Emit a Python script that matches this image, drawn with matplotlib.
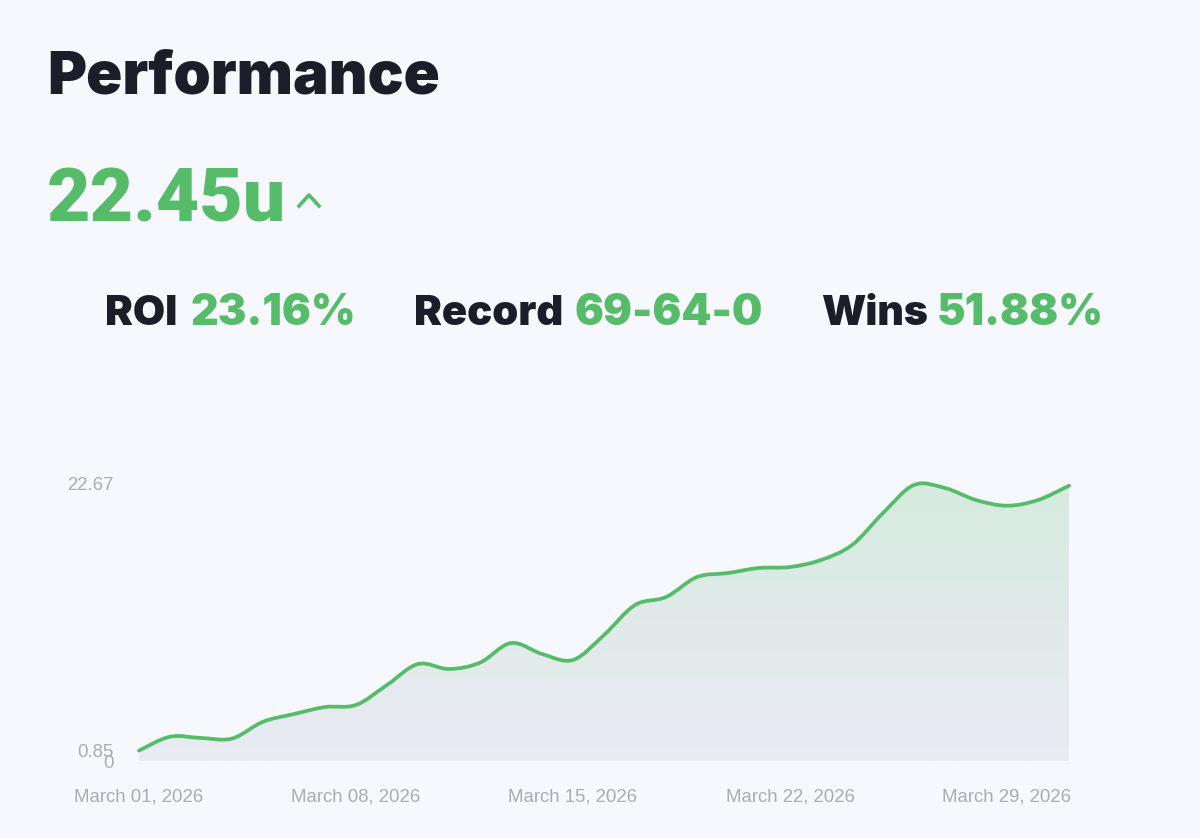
import numpy as np
import pandas as pd
from matplotlib import pyplot as plt
from matplotlib import dates as mdates
from matplotlib.path import Path
from matplotlib.patches import PathPatch
from matplotlib.colors import LinearSegmentedColormap

BG = '#f6f8fd'
DARK = '#1b1d29'
GREEN = '#56bc69'
GREY = '#aaacb1'

days = pd.date_range('2026-03-01', '2026-03-31')
units = [0.85, 1.98, 1.88, 1.83, 3.20, 3.83, 4.40, 4.57, 6.20, 7.91, 7.50, 8.02, 9.62,
         8.73, 8.24, 10.27, 12.72, 13.37, 15.00, 15.33, 15.74, 15.82, 16.39, 17.61,
         20.22, 22.51, 22.26, 21.28, 20.82, 21.28, 22.45]
date_ticks = ['2026-03-01', '2026-03-08', '2026-03-15', '2026-03-22', '2026-03-29']
y_ticks = [0, 0.85, 22.67]
y_labels = ['0', '0.85', '22.67']


def smooth_path(x, y):
    """
    Catmull-Rom curve through the points, as cubic bezier segments
    """
    verts = [(x[0], y[0])]
    codes = [Path.MOVETO]
    n = len(x)
    for i in range(n - 1):
        x0, y0 = x[max(i - 1, 0)], y[max(i - 1, 0)]
        x3, y3 = x[min(i + 2, n - 1)], y[min(i + 2, n - 1)]
        verts.append((x[i] + (x[i + 1] - x0) / 6, y[i] + (y[i + 1] - y0) / 6))
        verts.append((x[i + 1] - (x3 - x[i]) / 6, y[i + 1] - (y3 - y[i]) / 6))
        verts.append((x[i + 1], y[i + 1]))
        codes += [Path.CURVE4] * 3
    return verts, codes


def label(x, y, text, color, size, weight='black', family='Inter'):
    # x, y are pixel positions of the text baseline
    fig.text(x / 1200, 1 - y / 838, text, color=color, fontsize=size, fontweight=weight,
             family=family, va='baseline')


fig = plt.figure(figsize=(12, 8.38), dpi=100, facecolor=BG)
ax = fig.add_axes([139 / 1200, 1 - 761 / 838, 930 / 1200, 278 / 838], facecolor=BG)

x = mdates.date2num(days)
verts, codes = smooth_path(x, units)

# gradient area under the curve
fill_verts = verts + [(x[-1], 0), (x[0], 0), verts[0]]
fill_codes = codes + [Path.LINETO, Path.LINETO, Path.CLOSEPOLY]
clip = PathPatch(Path(fill_verts, fill_codes), facecolor='none', edgecolor='none')
ax.add_patch(clip)
cmap = LinearSegmentedColormap.from_list('area', ['#eaebf3', '#d6eadf'])
im = ax.imshow(np.linspace(0, 1, 256).reshape(-1, 1), cmap=cmap, origin='lower', aspect='auto',
               extent=[x[0], x[-1], 0, 22.67])
im.set_clip_path(clip)

ax.add_patch(PathPatch(Path(verts, codes), facecolor='none', edgecolor=GREEN, linewidth=2.7,
                       capstyle='round', clip_on=False))

ax.set_xlim(x[0], x[-1])
ax.set_ylim(0, 22.67)
for s in ax.spines.values():
    s.set_visible(False)
ax.set_xticks(mdates.date2num(pd.to_datetime(date_ticks)))
ax.xaxis.set_major_formatter(mdates.DateFormatter('%B %d, %Y'))
ax.set_yticks(y_ticks)
ax.set_yticklabels(y_labels)
ax.tick_params(axis='both', length=0, labelcolor=GREY, labelsize=13.4)
ax.tick_params(axis='x', pad=20)
ax.tick_params(axis='y', pad=18)
for t in ax.get_xticklabels() + ax.get_yticklabels():
    t.set_family('Liberation Sans')

label(47, 94, 'Performance', DARK, 43)
label(47, 221, '22.45u', GREEN, 54, family='Roboto')

fig.add_artist(plt.Line2D([299 / 1200, 309 / 1200, 319 / 1200],
                          [1 - 206 / 838, 1 - 195 / 838, 1 - 206 / 838],
                          color=GREEN, linewidth=2.6, transform=fig.transFigure))

label(105, 325, 'ROI', DARK, 30)
label(190, 325, '23.16%', GREEN, 30.8)
label(414, 325, 'Record', DARK, 30)
label(574, 325, '69-64-0', GREEN, 30.8)
label(821, 325, 'Wins', DARK, 29.5)
label(937, 325, '51.88%', GREEN, 30.8)

plt.savefig('out.png', dpi=100, facecolor=BG)
